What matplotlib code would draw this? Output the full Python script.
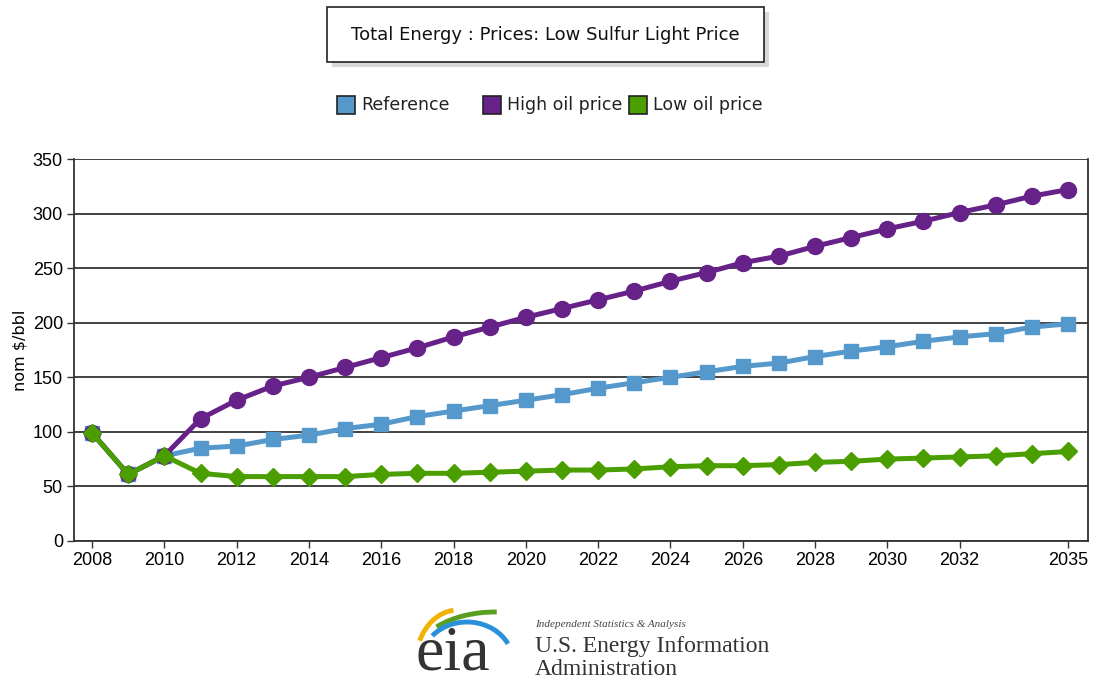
import numpy as np
import matplotlib.pyplot as plt
from matplotlib.patches import Rectangle, Arc

years = list(range(2008, 2036))

reference = [99, 61, 78, 85, 87, 93, 97, 103, 107, 114, 119, 124, 129, 134, 140,
             145, 150, 155, 160, 163, 169, 174, 178, 183, 187, 190, 196, 199]
high_oil = [99, 61, 78, 112, 129, 142, 150, 159, 168, 177, 187, 196, 205, 213, 221,
            229, 238, 246, 255, 261, 270, 278, 286, 293, 301, 308, 316, 322]
low_oil = [99, 61, 78, 62, 59, 59, 59, 59, 61, 62, 62, 63, 64, 65, 65,
           66, 68, 69, 69, 70, 72, 73, 75, 76, 77, 78, 80, 82]

tick_years = [2008, 2010, 2012, 2014, 2016, 2018, 2020, 2022, 2024, 2026,
              2028, 2030, 2032, 2035]

c_ref = '#5599cc'
c_high = '#662288'
c_low = '#4a9e00'

tick_font = ['Liberation Sans', 'DejaVu Sans']
text_font = ['DejaVu Sans']

fig = plt.figure(figsize=(10.93, 6.84), dpi=100)
ax = fig.add_axes([0.0677, 0.2091, 0.9277, 0.5584])

ax.plot(years, reference, color=c_ref, lw=3.6, marker='s', ms=10, zorder=3)
ax.plot(years, high_oil, color=c_high, lw=3.6, marker='o', ms=11.5, zorder=4)
ax.plot(years, low_oil, color=c_low, lw=3.6, marker='D', ms=9, zorder=5)

ax.set_xlim(2007.5, 2035.55)
ax.set_ylim(0, 350)
ax.set_yticks(range(0, 351, 50))
ax.set_xticks(tick_years)
ax.set_xticklabels([str(y) for y in tick_years], family=tick_font, fontsize=13)
ax.set_yticklabels([str(v) for v in range(0, 351, 50)], family=tick_font, fontsize=13)
ax.tick_params(direction='out', length=5, width=1, color='#333333', pad=3)
ax.grid(axis='y', color='#333333', lw=1.3)
ax.set_axisbelow(True)
for s in ['left', 'bottom', 'right']:
    ax.spines[s].set_color('#333333')
    ax.spines[s].set_linewidth(1.3)
ax.spines['top'].set_visible(False)
ax.set_ylabel('nom $/bbl', family=text_font, fontsize=11.5, labelpad=4)

# title box with drop shadow
fig.patches.append(Rectangle((332 / 1093, 1 - 67 / 684), 437 / 1093, 55 / 684,
                             transform=fig.transFigure, facecolor='#d8d8d8',
                             edgecolor='none', zorder=0))
fig.patches.append(Rectangle((327 / 1093, 1 - 62 / 684), 437 / 1093, 55 / 684,
                             transform=fig.transFigure, facecolor='white',
                             edgecolor='#222222', lw=1.2, zorder=1))
fig.text(545.5 / 1093, 1 - 35 / 684, 'Total Energy : Prices: Low Sulfur Light Price',
         ha='center', va='center', fontsize=13, family=text_font, color='#111111')

# legend
legend_items = [('Reference', c_ref, 337), ('High oil price', c_high, 483),
                ('Low oil price', c_low, 629)]
for label, col, x0 in legend_items:
    fig.patches.append(Rectangle((x0 / 1093, 1 - 114 / 684), 18 / 1093, 18 / 684,
                                 transform=fig.transFigure, facecolor=col,
                                 edgecolor='#222222', lw=1.2))
    fig.text((x0 + 24) / 1093, 1 - 105 / 684, label, ha='left', va='center',
             fontsize=12.5, family=text_font, color='#222222')

# eia logo, drawn in pixel units with y pointing up
logo = fig.add_axes([0, 0, 1, 1], facecolor='none')
logo.set_xlim(0, 1093)
logo.set_ylim(0, 684)
logo.axis('off')
logo.add_patch(Arc((458, 22), 84, 104, theta1=95, theta2=151, color='#f0b400', lw=3.5))
logo.add_patch(Arc((495, 22), 164, 100, theta1=88, theta2=149, color='#5a9e20', lw=3.5))
logo.add_patch(Arc((467, 22), 92, 80, theta1=24, theta2=143, color='#2a90d8', lw=3.5))
logo.text(453, 14, 'eia', ha='center', va='baseline', fontsize=46,
          family='Liberation Serif', color='#333333')
logo.text(535, 57, 'Independent Statistics & Analysis', ha='left', va='baseline',
          fontsize=8, style='italic', family='Liberation Serif', color='#444444')
logo.text(535, 32, 'U.S. Energy Information', ha='left', va='baseline',
          fontsize=17, family='Liberation Serif', color='#333333')
logo.text(535, 9, 'Administration', ha='left', va='baseline',
          fontsize=17, family='Liberation Serif', color='#333333')

fig.savefig('out.png', dpi=100)
